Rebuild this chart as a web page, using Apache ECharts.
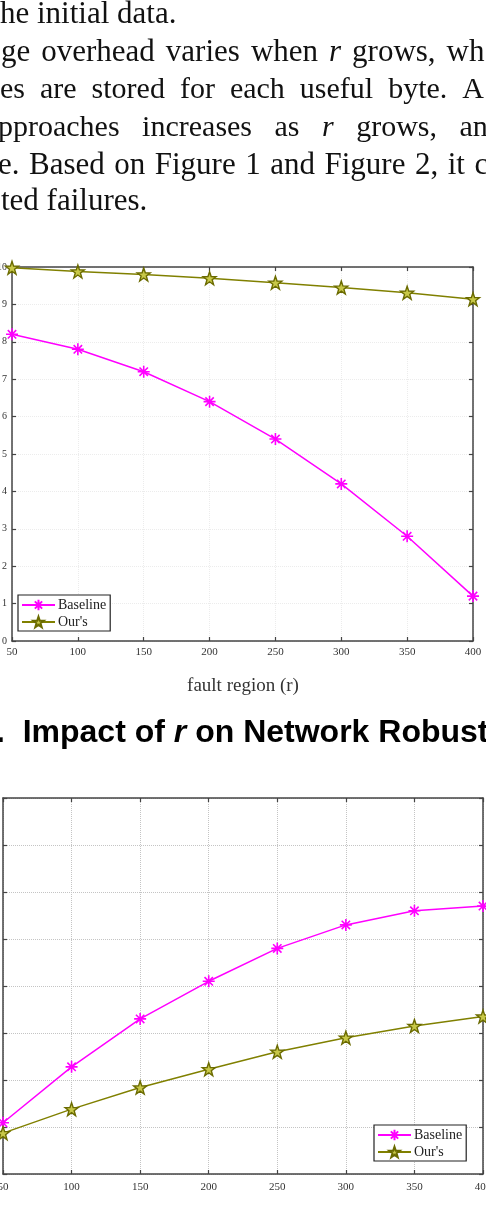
<!DOCTYPE html>
<html>
<head>
<meta charset="utf-8">
<script src="https://cdn.jsdelivr.net/npm/echarts@6/dist/echarts.min.js"></script>
<style>
  html, body { margin: 0; padding: 0; background: #fff; }
  #chart { width: 486px; height: 1210px; }
</style>
</head>
<body>
<div id="chart"></div>
<script>
// fault region r on the x axis
const regions = [50, 100, 150, 200, 250, 300, 350, 400]
const xTicks = [50, 100, 150, 200, 250, 300, 350, 400]

// figure 1: network robustness
const robustBaseline = [8.2, 7.8, 7.2, 6.4, 5.4, 4.2, 2.8, 1.2]
const robustOurs = [9.98, 9.88, 9.8, 9.7, 9.58, 9.45, 9.31, 9.14]

// figure 2: storage overhead (y labels cut off in the picture)
const overheadBaseline = [1.09, 2.28, 3.3, 4.1, 4.8, 5.3, 5.6, 5.7]
const overheadOurs = [0.87, 1.38, 1.84, 2.23, 2.6, 2.9, 3.15, 3.35]

const seriesNames = ['Baseline', "Our's"]

const MAGENTA = '#ff00ff'
const OLIVE = '#808000'
const SERIF = '"Liberation Serif", "DejaVu Serif", serif'
const SANS = '"Liberation Sans", Arial, sans-serif'

const asterisk = 'path://M0,-10L0,10M-10,0L10,0M-7,-7L7,7M-7,7L7,-7'
const star = 'path://M0,-10L2.35,-3.24L9.51,-3.09L3.8,1.24L5.88,8.09L0,4L-5.88,8.09L-3.8,1.24L-9.51,-3.09L-2.35,-3.24Z'

const pairs = (ys) => regions.map((x, i) => [x, ys[i]])

const chart = echarts.init(document.getElementById('chart'))

function frameAxes(gridIndex, yMax, gridColor, showY, labelMargin) {
  const line = { show: true, onZero: false, lineStyle: { color: '#444', width: 1.5 } }
  const tick = { show: true, inside: true, length: 4, lineStyle: { color: '#444', width: 1.2 } }
  return {
    x: [
      {
        type: 'value', gridIndex, min: 50, max: 400, interval: 50, position: 'bottom',
        axisLine: line, axisTick: tick,
        axisLabel: { fontFamily: SERIF, fontSize: 11, color: '#333', margin: labelMargin,
          customValues: xTicks },
        splitLine: { show: true, lineStyle: { color: gridColor, type: 'dotted', width: 1 } }
      },
      {
        type: 'value', gridIndex, min: 50, max: 400, interval: 50, position: 'top',
        axisLine: line, axisTick: tick, axisLabel: { show: false }, splitLine: { show: false }
      }
    ],
    y: [
      {
        type: 'value', gridIndex, min: 0, max: yMax, interval: 1, position: 'left',
        axisLine: line, axisTick: tick,
        axisLabel: { show: showY, fontFamily: SERIF, fontSize: 10, color: '#333', margin: 5 },
        splitLine: { show: true, lineStyle: { color: gridColor, type: 'dotted', width: 1 } }
      },
      {
        type: 'value', gridIndex, min: 0, max: yMax, interval: 1, position: 'right',
        axisLine: line, axisTick: tick, axisLabel: { show: false }, splitLine: { show: false }
      }
    ]
  }
}

const a1 = frameAxes(0, 10, '#ececec', true, 6)
const a2 = frameAxes(1, 8, '#c4c4c4', false, 8)

function baseSeries(name, data, xi, yi) {
  const isBase = name === 'Baseline'
  return {
    name, type: 'line', data, xAxisIndex: xi, yAxisIndex: yi,
    symbol: isBase ? asterisk : star,
    symbolSize: isBase ? 12 : 13,
    showSymbol: true,
    lineStyle: { color: isBase ? MAGENTA : OLIVE, width: 1.5 },
    itemStyle: isBase
      ? { color: MAGENTA, borderColor: MAGENTA, borderWidth: 1.6 }
      : { color: '#c8c848', borderColor: '#6b6b00', borderWidth: 1.4 },
    emphasis: { disabled: true },
    z: isBase ? 3 : 4
  }
}

function legendBox(left, top) {
  return {
    data: seriesNames, orient: 'vertical', left, top,
    borderColor: '#222', borderWidth: 1.2, backgroundColor: '#fff',
    padding: [3, 4, 2, 3], itemGap: 3, itemWidth: 33, itemHeight: 13,
    textStyle: { fontFamily: SERIF, fontSize: 14, color: '#222', padding: [0, 0, 0, -2] },
    selectedMode: false
  }
}

const textLine = (x, y, text, size) => ({
  type: 'text', x, y,
  style: {
    text, font: size + 'px ' + SERIF, fill: '#111', verticalAlign: 'middle',
    rich: {
      i: { fontStyle: 'italic', fontFamily: SERIF, fontSize: size, fill: '#111' },
      s: { fontFamily: SERIF, fontSize: 13 },
      t: { fontFamily: SERIF, fontSize: 7 }
    }
  }
})

chart.setOption({
  animation: false,
  grid: [
    { left: 12, right: 13, top: 267, height: 374, containLabel: false, outerBoundsMode: 'none' },
    { left: 3, right: 3, top: 798, height: 376, containLabel: false, outerBoundsMode: 'none' }
  ],
  xAxis: [...a1.x, ...a2.x],
  yAxis: [...a1.y, ...a2.y],
  legend: [legendBox(18, 595), legendBox(374, 1125)],
  series: [
    baseSeries('Baseline', pairs(robustBaseline), 0, 0),
    baseSeries("Our's", pairs(robustOurs), 0, 0),
    baseSeries('Baseline', pairs(overheadBaseline), 2, 2),
    baseSeries("Our's", pairs(overheadOurs), 2, 2)
  ],
  graphic: [
    textLine(0, 15, 'he initial data.', 31),
    textLine(1, 53, 'ge {s| }overhead {s| }varies {s| }when {s| }{i|r} {s| }grows, {s| }wh', 31),
    textLine(0, 90, 'es  are  stored  for  each  useful  byte.  A', 30),
    textLine(-2, 128, 'pproaches   increases   as   {i|r}   grows,   an', 30),
    textLine(-2, 166, 'e. {t| }Based {t| }on {t| }Figure {t| }1 {t| }and {t| }Figure {t| }2, {t| }it {t| }c', 31),
    textLine(1, 202, 'ted failures.', 31),
    {
      type: 'text', x: 243, y: 686,
      style: { text: 'fault region (r)', font: '19px ' + SERIF, fill: '#333',
        align: 'center', verticalAlign: 'middle' }
    },
    {
      type: 'text', x: -4, y: 733,
      style: {
        text: '.  Impact of {i|r} on Network Robustness',
        font: 'bold 32px ' + SANS, fill: '#000', verticalAlign: 'middle',
        rich: { i: { fontStyle: 'italic', fontWeight: 'bold', fontFamily: SANS, fontSize: 32, fill: '#000' } }
      }
    }
  ]
})
</script>
</body>
</html>
